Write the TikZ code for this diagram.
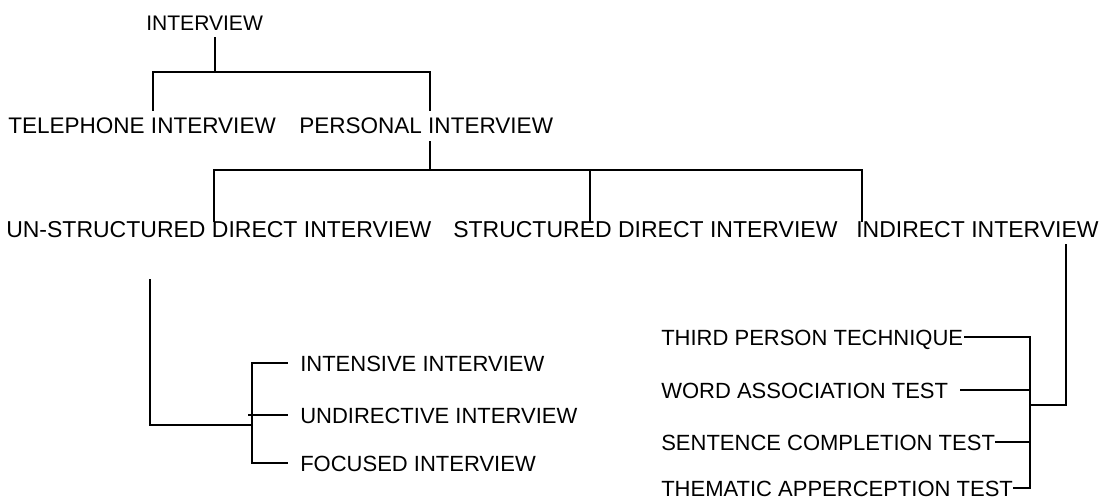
\documentclass[tikz,border=0pt]{standalone}
\usepackage{amsmath}
\usepackage{fontspec}
\setmainfont{Liberation Sans}
\usepackage{tikz}

\tikzset{
  lbl/.style={inner sep=0.75pt, text height=12pt, text depth=0pt, anchor=base west,
    font=\fontsize{#1}{18}\selectfont},
  lbl/.default=16.5,
  wire/.style={line width=1.4pt, line cap=rect}
}

\begin{document}
\begin{tikzpicture}[x=0.75pt,y=0.75pt,yscale=-1,xscale=1]
\path[use as bounding box] (0,0) rectangle (1106,502);

% Text Node
\node (top) [lbl=15.8] at (145,31) {INTERVIEW};
% Text Node
\node (tel) [lbl=16.9] at (7,134) {TELEPHONE INTERVIEW};
% Text Node
\node (pers) [lbl=16.9] at (298,134) {PERSONAL INTERVIEW};
% Text Node
\node (unstr) [lbl=17.25] at (5,238) {UN-STRUCTURED DIRECT INTERVIEW};
% Text Node
\node (str) [lbl=17.25] at (452,238) {STRUCTURED DIRECT INTERVIEW};
% Text Node
\node (ind) [lbl=17.25] at (855,238) {INDIRECT INTERVIEW};
% Text Node
\node (intens) [lbl] at (299,371) {INTENSIVE INTERVIEW};
% Text Node
\node (undir) [lbl] at (299,423) {UNDIRECTIVE INTERVIEW};
% Text Node
\node (focus) [lbl] at (299,471) {FOCUSED INTERVIEW};
% Text Node
\node (third) [lbl] at (660,345) {THIRD PERSON TECHNIQUE};
% Text Node
\node (word) [lbl] at (660,398) {WORD ASSOCIATION TEST};
% Text Node
\node (sent) [lbl] at (660,450) {SENTENCE COMPLETION TEST};
% Text Node
\node (them) [lbl] at (660,496) {THEMATIC APPERCEPTION TEST};

% junctions
\coordinate (t0) at (215,38);
\coordinate (t1) at (215,72);
\coordinate (tl) at (153,72);
\coordinate (tr) at (430,72);
\coordinate (tlb) at (153,110);
\coordinate (trb) at (430,110);
\coordinate (p0) at (430,142);
\coordinate (p1) at (430,170);
\coordinate (m0) at (214,170);
\coordinate (m1) at (590,170);
\coordinate (m2) at (862,170);
\coordinate (lv0) at (150,280);
\coordinate (lv1) at (150,425);
\coordinate (lj) at (252,425);
\coordinate (rv0) at (1066,245);
\coordinate (rv1) at (1066,405);
\coordinate (rj) at (1030,405);

%Straight Lines
\draw [wire] (t0) -- (t1) ;
%Straight Lines
\draw [wire] (tlb) -- (tl) -- (tr) -- (trb) ;
%Straight Lines
\draw [wire] (p0) -- (p1) ;
%Straight Lines
\draw [wire] (m0 |- unstr.north) -- (m0) -- (m2) -- (m2 |- ind.north) ;
%Straight Lines
\draw [wire] (m1) -- (m1 |- str.north) ;

%Straight Lines
\draw [wire] (lv0) -- (lv1) -- (lj) ;
%Straight Lines
\draw [wire] (lj |- intens.west) -- (lj |- focus.west) ;
\draw [wire] (lj |- intens.west) -- ([xshift=-9pt]intens.west) ;
\draw [wire] ([xshift=-2pt]lj |- undir.west) -- ([xshift=-9pt]undir.west) ;
\draw [wire] (lj |- focus.west) -- ([xshift=-9pt]focus.west) ;

%Straight Lines
\draw [wire] (rv0) -- (rv1) -- (rj) ;
%Straight Lines
\draw [wire] (rj |- third.east) -- (rj |- them.east) ;
\draw [wire] (third.east) -- (rj |- third.east) ;
\draw [wire] ([xshift=9pt]word.east) -- (rj |- word.east) ;
\draw [wire] (sent.east) -- (rj |- sent.east) ;
\draw [wire] (them.east) -- (rj |- them.east) ;

\end{tikzpicture}
\end{document}
